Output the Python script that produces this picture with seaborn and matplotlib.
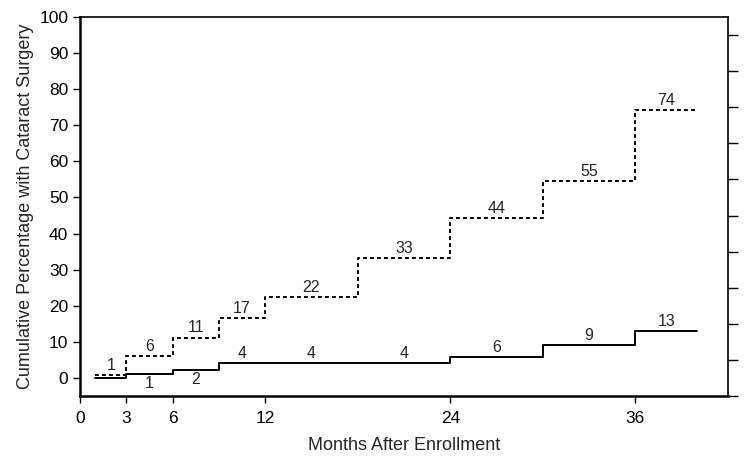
import numpy as np
import pandas as pd
import matplotlib
matplotlib.use("Agg")
import matplotlib.pyplot as plt
import seaborn as sns

# step start months (last entry closes the final step)
months = [1, 3, 6, 9, 12, 18, 24, 30, 36, 40]

# cumulative percentage with cataract surgery
dotted_pct = [0.9, 6.0, 11.2, 16.7, 22.3, 33.2, 44.4, 54.6, 74.2, 74.2]
solid_pct = [0.0, 1.0, 2.1, 4.2, 4.2, 4.2, 5.9, 9.1, 13.1, 13.1]

# numbers printed over each step
dotted_labels = ["1", "6", "11", "17", "22", "33", "44", "55", "74"]
solid_labels = ["", "1", "2", "4", "4", "4", "6", "9", "13"]
solid_below = [False, True, True, False, False, False, False, False, False]

x_ticks = [0, 3, 6, 12, 24, 36]

df = pd.DataFrame({
    "Month": months * 2,
    "Percent": dotted_pct + solid_pct,
    "Group": ["dotted"] * len(months) + ["solid"] * len(months),
})

sns.set_style("ticks")
plt.rcParams["font.family"] = ["Liberation Sans", "DejaVu Sans"]

fig = plt.figure(figsize=(7.45, 4.58), dpi=100)
ax = fig.add_axes([0.1074, 0.1354, 0.8698, 0.8275])

sns.lineplot(data=df[df["Group"] == "dotted"], x="Month", y="Percent",
             drawstyle="steps-post", color="black", lw=1.4,
             linestyle=(0, (2.0, 1.6)), ax=ax)
sns.lineplot(data=df[df["Group"] == "solid"], x="Month", y="Percent",
             drawstyle="steps-post", color="black", lw=1.4, ax=ax)

# labels at the middle of each step
for i in range(len(months) - 1):
    mid = (months[i] + months[i + 1]) / 2
    ax.annotate(dotted_labels[i], (mid, dotted_pct[i]), xytext=(0, 1.5),
                textcoords="offset points", ha="center", va="bottom", fontsize=11.5)
    if solid_labels[i]:
        if solid_below[i]:
            ax.annotate(solid_labels[i], (mid, solid_pct[i]), xytext=(0, -1.5),
                        textcoords="offset points", ha="center", va="top", fontsize=11.5)
        else:
            ax.annotate(solid_labels[i], (mid, solid_pct[i]), xytext=(0, 1.5),
                        textcoords="offset points", ha="center", va="bottom", fontsize=11.5)

ax.set_xlim(0, 42)
ax.set_ylim(-5, 100)
ax.set_xticks(x_ticks)
ax.set_yticks(np.arange(0, 101, 10))
ax.tick_params(labelsize=12.5, length=5, width=1, colors="black")
ax.tick_params(axis="x", pad=6)
ax.set_xlabel("Months After Enrollment", fontsize=13, labelpad=8)
ax.set_ylabel("Cumulative Percentage with Cataract Surgery", fontsize=13, labelpad=4)

for side in ["left", "bottom"]:
    ax.spines[side].set_linewidth(1.8)
for side in ["top", "right"]:
    ax.spines[side].set_visible(True)
    ax.spines[side].set_linewidth(1.2)
for s in ax.spines.values():
    s.set_color("black")

# right side ticks without labels
ax2 = ax.twinx()
ax2.set_ylim(-5, 100)
ax2.set_yticks(np.arange(-5, 100, 10))
ax2.set_yticklabels([])
ax2.tick_params(length=7, width=1, colors="black")
for s in ax2.spines.values():
    s.set_visible(False)

fig.savefig("out.png", dpi=100)
